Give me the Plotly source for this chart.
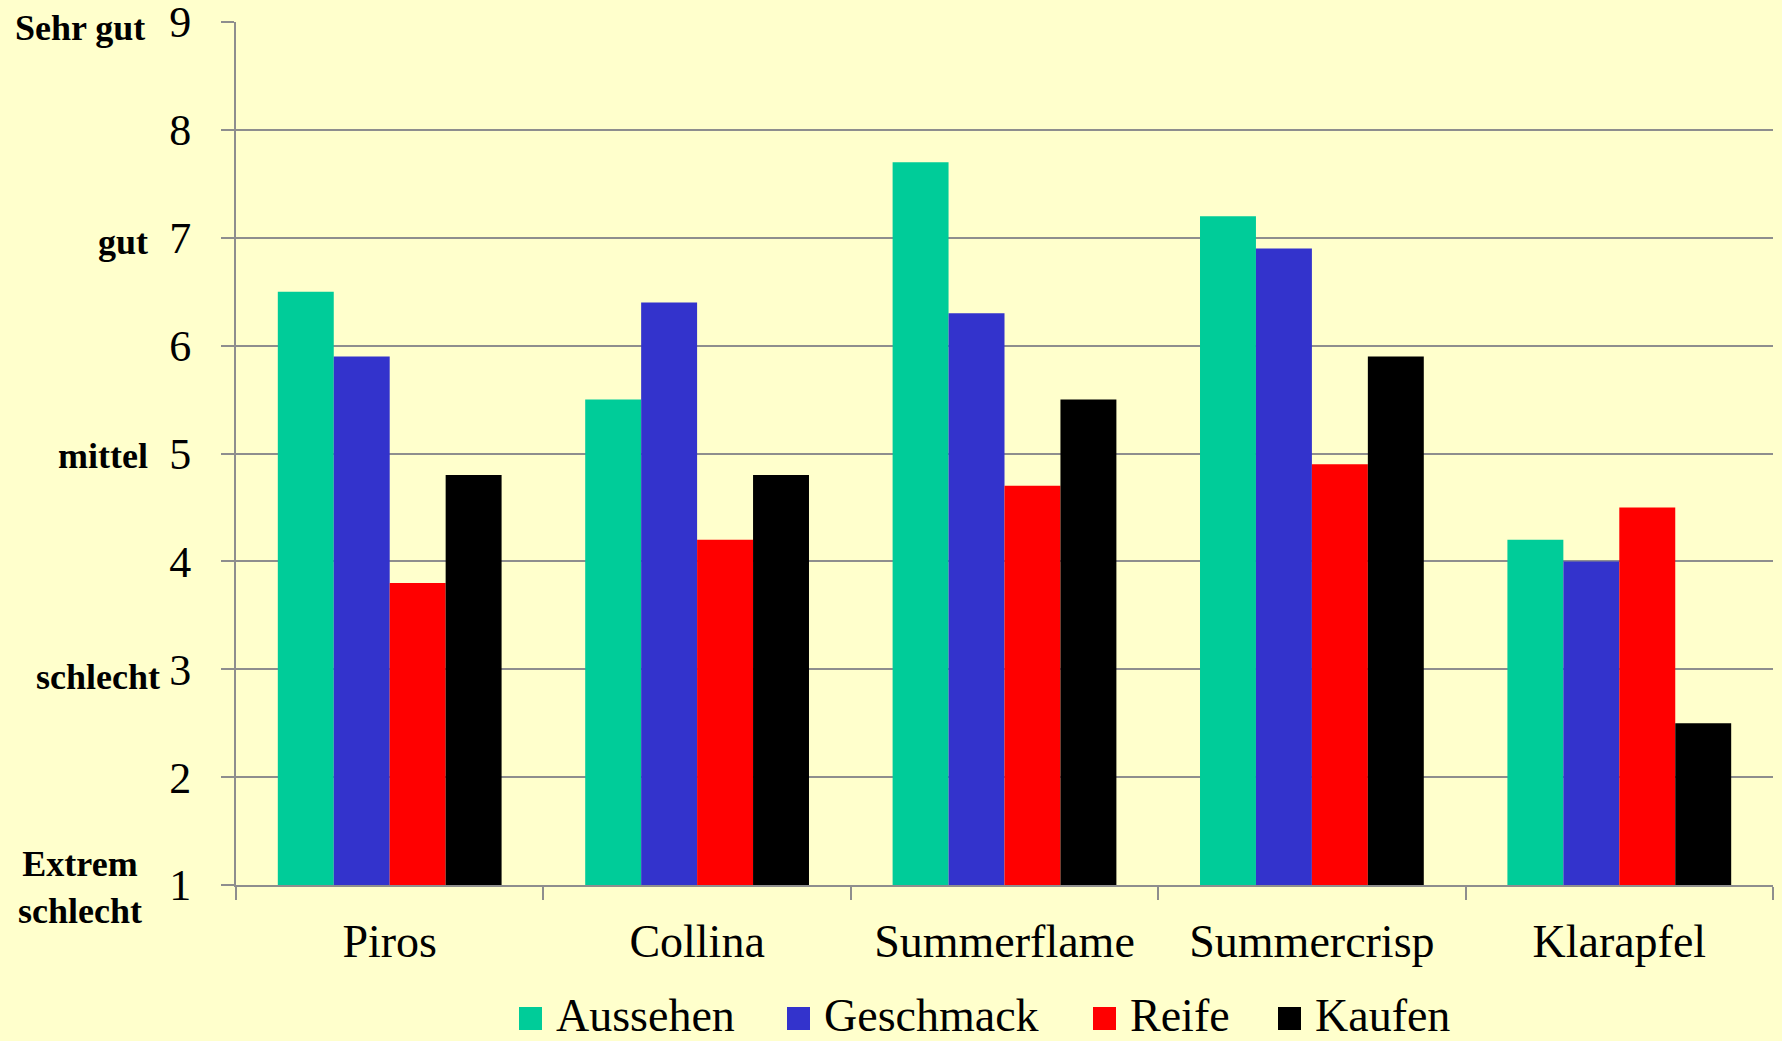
import plotly.graph_objects as go

# Apple varieties and their average ratings (scale 1 = extrem schlecht ... 9 = sehr gut)
sorten = ["Piros", "Collina", "Summerflame", "Summercrisp", "Klarapfel"]
aussehen = [6.5, 5.5, 7.7, 7.2, 4.2]
geschmack = [5.9, 6.4, 6.3, 6.9, 4.0]
reife = [3.8, 4.2, 4.7, 4.9, 4.5]
kaufen = [4.8, 4.8, 5.5, 5.9, 2.5]

serien = ["Aussehen", "Geschmack", "Reife", "Kaufen"]
werte = [aussehen, geschmack, reife, kaufen]
farben = ["#00CC99", "#3333CC", "#FF0000", "#000000"]

skala_ticks = [1, 2, 3, 4, 5, 6, 7, 8, 9]
skala_worte = {9: "Sehr gut", 7: "gut", 5: "mittel", 3: "schlecht", 1: "Extrem<br>schlecht"}

BG = "#FFFFCC"
GRID = "#8E8E8E"
FONT = "Liberation Serif"

W, H = 1782, 1041
L, R, T, B = 236, 9, 22, 156

fig = go.Figure()
for name, vals, col in zip(serien, werte, farben):
    fig.add_trace(go.Bar(x=sorten, y=vals, name=name, marker=dict(color=col, line=dict(width=0)),
                         showlegend=False))

# verbal labels next to the numeric scale
word_pos = {9: (-89, 6), 7: (-86, 4), 5: (-86, 2), 3: (-74, 8)}
annotations = []
for v, txt in skala_worte.items():
    if v == 1:
        annotations.append(dict(x=0, xref="paper", y=v, yref="y", xanchor="center", yanchor="middle",
                                xshift=80 - L, yshift=-2, text=txt, showarrow=False, align="center",
                                font=dict(family=FONT, size=36, color="black", weight="bold")))
    else:
        xs, ys = word_pos[v]
        annotations.append(dict(x=0, xref="paper", y=v, yref="y", xanchor="right", yanchor="middle",
                                xshift=xs, yshift=-ys, text=txt, showarrow=False,
                                font=dict(family=FONT, size=36, color="black", weight="bold")))

# legend row drawn below the axis
pw = W - L - R
ph = H - T - B
def px_x(p):
    return (p - L) / pw
def px_y(p):
    return (H - B - p) / ph

legend_sq = [519, 787, 1093, 1278]
shapes = []
for name, col, sx in zip(serien, farben, legend_sq):
    shapes.append(dict(type="rect", xref="paper", yref="paper",
                       x0=px_x(sx), x1=px_x(sx + 23), y0=px_y(1030), y1=px_y(1007),
                       fillcolor=col, line=dict(width=0)))
    annotations.append(dict(x=px_x(sx + 35), xref="paper", y=px_y(1015), yref="paper",
                            xanchor="left", yanchor="middle", text=name, showarrow=False,
                            font=dict(family=FONT, size=46, color="black")))

fig.update_layout(
    width=W, height=H,
    margin=dict(l=L, r=R, t=T, b=B, autoexpand=False),
    paper_bgcolor=BG, plot_bgcolor=BG,
    barmode="group", bargap=0.272, bargroupgap=0,
    showlegend=False,
    annotations=annotations,
    shapes=shapes,
    font=dict(family=FONT, color="black"),
)
fig.update_xaxes(
    showline=True, linecolor=GRID, linewidth=2,
    ticks="outside", ticklen=13, tickcolor=GRID, tickwidth=2,
    tickson="boundaries", showgrid=False,
    tickfont=dict(family=FONT, size=46, color="black"),
    ticklabelstandoff=15,
    automargin=False,
)
fig.update_yaxes(
    range=[1, 9], tickvals=skala_ticks,
    showline=True, linecolor=GRID, linewidth=2,
    ticks="outside", ticklen=13, tickcolor=GRID, tickwidth=2,
    showgrid=True, gridcolor=GRID, gridwidth=2,
    zeroline=False,
    tickfont=dict(family=FONT, size=44, color="black"),
    ticklabelstandoff=21,
    ticklabeloverflow="allow",
    automargin=False,
)

fig.write_html("out.html")
